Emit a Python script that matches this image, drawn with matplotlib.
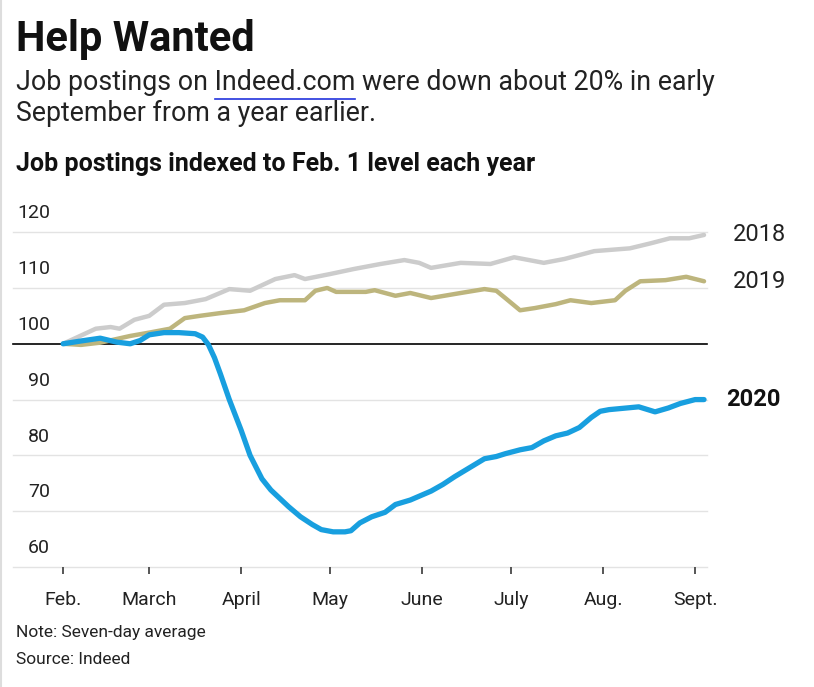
import matplotlib
matplotlib.use("Agg")
import matplotlib.pyplot as plt
import numpy as np

# no condensed font around, Roboto is the narrowest we have
plt.rcParams['font.family'] = ['Roboto', 'DejaVu Sans']

# days since Feb. 1
days_2018 = [0, 11, 16, 19, 24, 29, 34, 41, 48, 56, 63, 71.5, 78, 81.5, 90, 98, 107, 115, 120,
             124, 134, 144, 152, 162, 169, 179, 191, 198, 204.5, 211, 216]
vals_2018 = [100, 102.7, 103, 102.7, 104.3, 105, 107, 107.3, 108, 109.8, 109.5, 111.6, 112.3, 111.6,
             112.5, 113.4, 114.3, 115, 114.5, 113.6, 114.5, 114.3, 115.5, 114.5, 115.2, 116.6, 117.1,
             118, 118.9, 118.9, 119.5]

days_2019 = [0, 6, 12.5, 22.6, 29, 36, 41, 46, 53, 61, 68, 73, 81.5, 85, 89, 92, 102, 105, 112, 117,
             124, 134, 142, 146, 149, 154, 159, 166, 171, 178, 186, 189.5, 194.5, 203, 210, 216]
vals_2019 = [100, 99.8, 100.2, 101.4, 102, 102.7, 104.6, 105, 105.5, 106, 107.3, 107.8, 107.8, 109.5,
             110, 109.3, 109.3, 109.6, 108.6, 109.1, 108.2, 109.1, 109.8, 109.5, 108.2, 106, 106.4,
             107.1, 107.8, 107.3, 107.8, 109.5, 111.2, 111.4, 112, 111.2]

days_2020 = [0, 6, 12.5, 18, 22.6, 26, 29, 34, 39, 44.5, 47, 49, 51, 53, 56, 60, 63, 67, 70, 73, 76,
             80, 84, 87, 91, 95, 97, 100, 104, 108.5, 112, 117, 124, 128, 132, 137, 142, 146, 149,
             154, 158, 162, 166, 170, 174, 178, 181, 184, 188, 194, 199.5, 204, 208, 213, 216]
vals_2020 = [100, 100.5, 101, 100.3, 100, 100.6, 101.6, 102, 102, 101.8, 101.2, 99.8, 97.5, 94.6, 90,
             84.5, 80, 75.8, 73.8, 72.3, 70.8, 69, 67.6, 66.7, 66.3, 66.3, 66.5, 67.9, 69, 69.8, 71.2,
             72, 73.6, 74.8, 76.2, 77.8, 79.4, 79.8, 80.3, 81, 81.4, 82.6, 83.5, 84, 85, 86.8, 87.9,
             88.2, 88.4, 88.7, 87.8, 88.5, 89.3, 90, 90]

month_days = [0, 29, 60, 90, 121, 151, 182, 213]
month_labels = ['Feb.', 'March', 'April', 'May', 'June', 'July', 'Aug.', 'Sept.']
y_ticks = [60, 70, 80, 90, 100, 110, 120]

W, H = 814, 687
fig = plt.figure(figsize=(W / 100, H / 100), dpi=100)
fig.patch.set_facecolor('white')

def fx(px):
    return px / W

def fy(py):
    return 1 - py / H

# axes placed so that 60 sits at y=567 and 120 at y=232 (pixels)
ax = fig.add_axes([fx(13), fy(567), fx(707) - fx(13), fy(221) - fy(567)])
ax.set_xlim(-16.9, 217)
ax.set_ylim(60, 122)

for v in y_ticks:
    if v == 100:
        ax.axhline(v, color='black', lw=1.2, zorder=2, clip_on=False)
    else:
        ax.axhline(v, color='#e3e3e3', lw=1.0, zorder=1, clip_on=False)

ax.plot(days_2018, vals_2018, color='#cccccc', lw=3.2, solid_capstyle='round',
        solid_joinstyle='round', zorder=3)
ax.plot(days_2019, vals_2019, color='#bdb57d', lw=3.2, solid_capstyle='round',
        solid_joinstyle='round', zorder=4)
ax.plot(days_2020, vals_2020, color='#189fdf', lw=3.8, solid_capstyle='round',
        solid_joinstyle='round', zorder=5)

for s in ax.spines.values():
    s.set_visible(False)
ax.set_yticks([])
ax.set_xticks(month_days)
ax.set_xticklabels(month_labels, fontsize=14, color='#222222')
ax.tick_params(axis='x', length=5, width=1.4, color='#555555', pad=12, direction='out')

# y labels sit above their gridlines, right aligned
for v in y_ticks:
    ax.annotate(str(v), xy=(0, v), xycoords=('figure fraction', 'data'),
                xytext=(50, 7), textcoords=('figure pixels', 'offset points'),
                ha='right', va='bottom', fontsize=14, color='#222222')

# series labels
ax.text(1.038, 119.5, '2018', transform=ax.get_yaxis_transform(), fontsize=17,
        va='center', ha='left', color='#222222', clip_on=False)
ax.text(1.038, 111.2, '2019', transform=ax.get_yaxis_transform(), fontsize=17,
        va='center', ha='left', color='#222222', clip_on=False)
ax.text(1.027, 90, '2020', transform=ax.get_yaxis_transform(), fontsize=17, fontweight='bold',
        va='center', ha='left', color='#111111', clip_on=False)

# titles
fig.text(fx(16), fy(39), 'Help Wanted', fontsize=30, fontweight='bold', va='center', ha='left',
         color='#111111')
sub1 = fig.text(fx(16), fy(83), 'Job postings on Indeed.com were down about 20% in early',
                fontsize=19.3, va='center', ha='left', color='#222222')
fig.text(fx(16), fy(113), 'September from a year earlier.', fontsize=19.3, va='center', ha='left',
         color='#222222')
fig.text(fx(16), fy(164), 'Job postings indexed to Feb. 1 level each year', fontsize=18,
         fontweight='bold', va='center', ha='left', color='#111111')

# link underline under "Indeed.com": measure where the word falls
fig.canvas.draw()
r = fig.canvas.get_renderer()
pre = fig.text(fx(16), fy(83), 'Job postings on ', fontsize=19.3, va='center', ha='left')
word = fig.text(fx(16), fy(83), 'Job postings on Indeed.com', fontsize=19.3, va='center', ha='left')
x0 = pre.get_window_extent(r).x1
x1 = word.get_window_extent(r).x1
pre.remove()
word.remove()
fig.lines.append(plt.Line2D([x0 / W, x1 / W], [fy(99), fy(99)], transform=fig.transFigure,
                            color='#2233dd', lw=1.2))

# footer
fig.text(fx(16), fy(633), 'Note: Seven-day average', fontsize=12.5, va='center', ha='left',
         color='#222222')
fig.text(fx(16), fy(660), 'Source: Indeed', fontsize=12.5, va='center', ha='left', color='#222222')

# faint frame at left edge
fig.lines.append(plt.Line2D([fx(1), fx(1)], [fy(0), fy(687)], transform=fig.transFigure,
                            color='#dddddd', lw=1.5))

fig.savefig('out.png', dpi=100, facecolor='white')
